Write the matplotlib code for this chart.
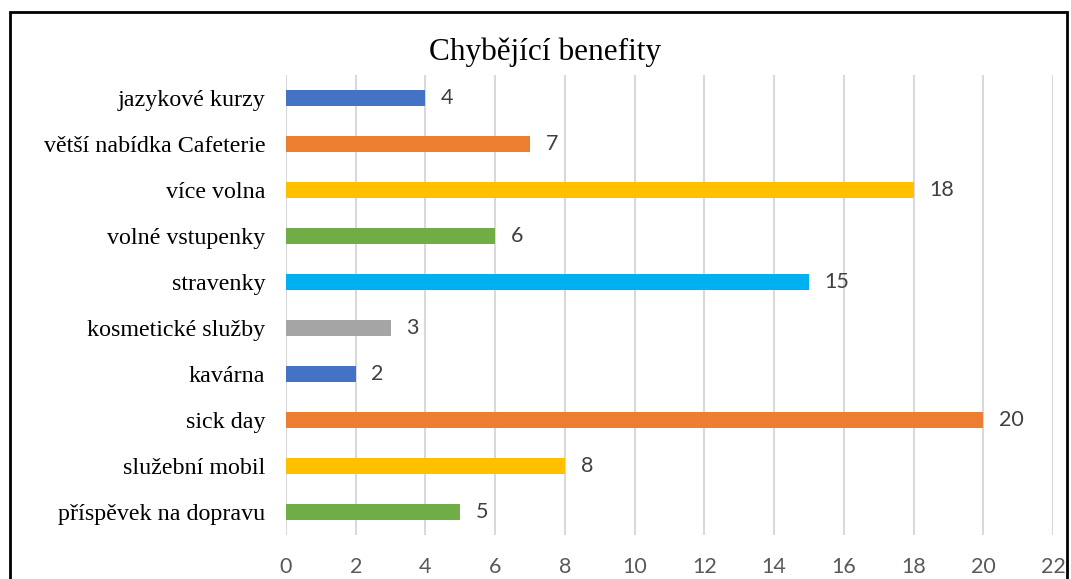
import matplotlib
matplotlib.use("Agg")
import matplotlib.pyplot as plt
from matplotlib.patches import Rectangle

categories = ["jazykové kurzy", "větší nabídka Cafeterie", "více volna", "volné vstupenky",
              "stravenky", "kosmetické služby", "kavárna", "sick day", "služební mobil",
              "příspěvek na dopravu"]
values = [4, 7, 18, 6, 15, 3, 2, 20, 8, 5]
colors = ["#4472C4", "#ED7D31", "#FFC000", "#70AD47", "#00B0F0", "#A5A5A5",
          "#4472C4", "#ED7D31", "#FFC000", "#70AD47"]
xticks = list(range(0, 23, 2))
title = "Chybějící benefity"

W, H = 1071, 579
fig = plt.figure(figsize=(W / 100, H / 100), dpi=100)
ax = fig.add_axes([286 / W, 1 - 535 / H, (1053 - 286) / W, (535 - 75) / H])

y = list(range(len(categories)))
ax.barh(y, values, height=0.36, color=colors, zorder=3)
ax.set_ylim(len(categories) - 0.5, -0.5)
ax.set_xlim(0, 22)
ax.set_xticks(xticks)
ax.set_xticklabels([str(t) for t in xticks], family=["Lato", "DejaVu Sans"],
                   fontsize=15.5, color="#595959")
ax.set_yticks(y)
ax.set_yticklabels(categories, family=["Liberation Serif"], fontsize=17.3, color="black")
ax.tick_params(axis="both", length=0)
ax.tick_params(axis="x", pad=16)
ax.tick_params(axis="y", pad=15)
for s in ax.spines.values():
    s.set_visible(False)
ax.grid(axis="x", color="#D9D9D9", linewidth=1.5, zorder=0)
ax.grid(axis="y", visible=False)

for yi, v in zip(y, values):
    ax.text(v + 0.45, yi, str(v), va="center", ha="left", fontsize=15.5,
            family=["Lato", "DejaVu Sans"], color="#404040")

fig.text(545 / W, 1 - 52 / H, title, ha="center", va="center",
         family=["Liberation Serif"], fontsize=22.5, color="black")

fig.patches.append(Rectangle((9.5 / W, -0.05), (1067 - 9.5) / W, 1.05 - 12 / H,
                             transform=fig.transFigure, fill=False,
                             edgecolor="black", linewidth=2))

fig.savefig("out.png", dpi=100)
